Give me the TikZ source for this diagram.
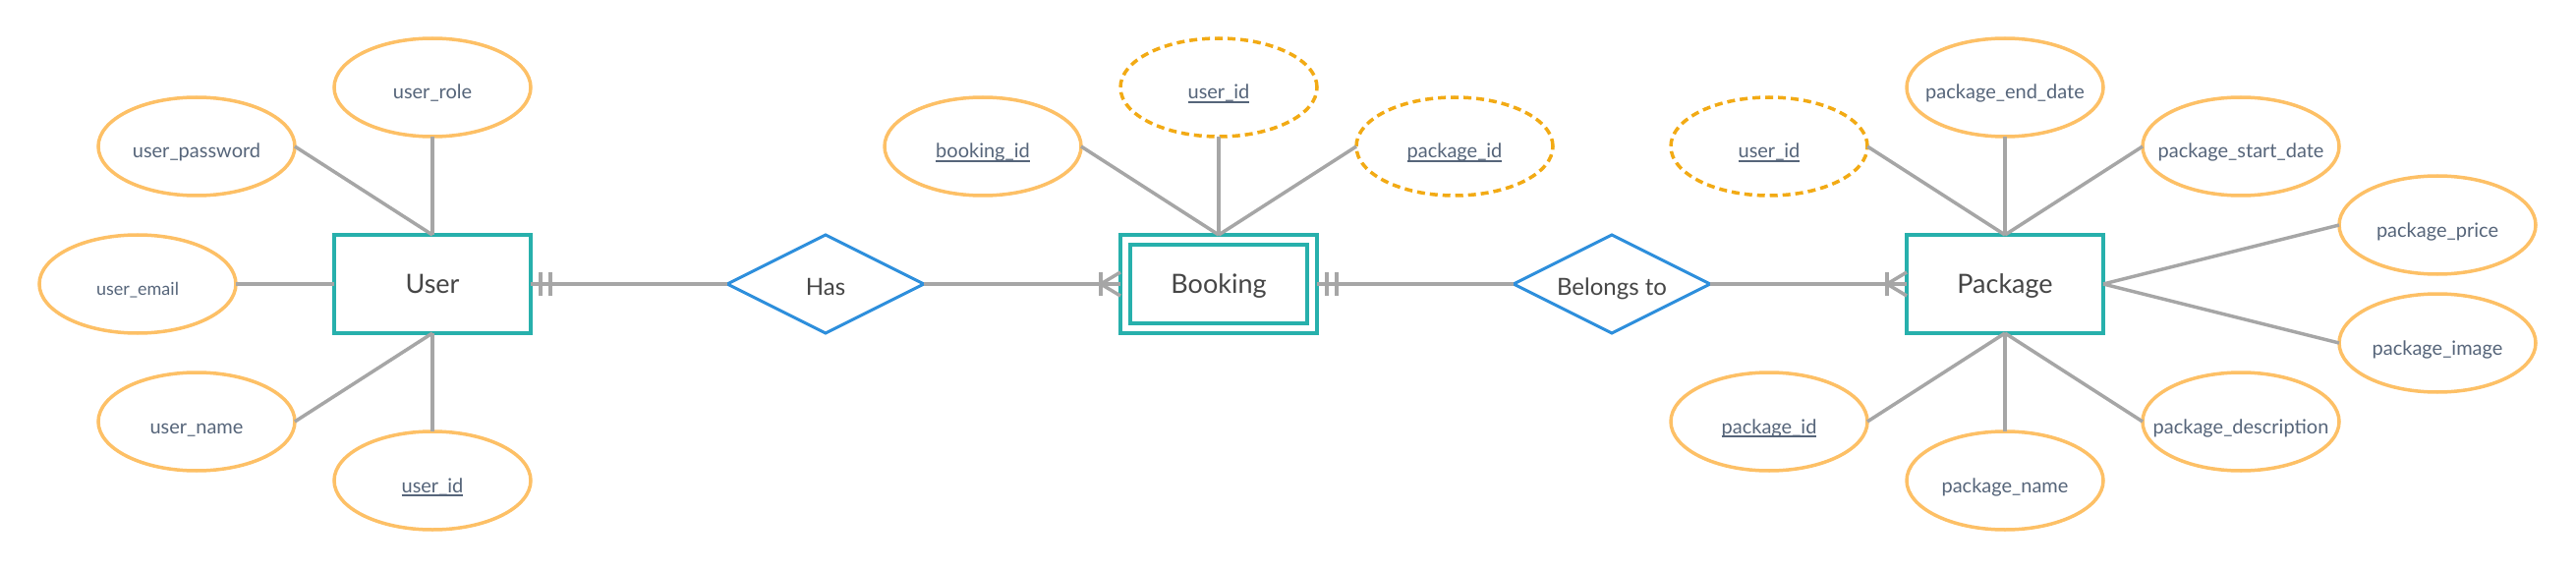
\documentclass[tikz,border=0pt]{standalone}
\usepackage{fontspec}
\setmainfont{Lato}
\usepackage{tikz}
\usepackage{xcolor}
\usetikzlibrary{shapes.geometric}
\usetikzlibrary{positioning}

\definecolor{entcol}{HTML}{27B0AC}
\definecolor{relcol}{HTML}{2E8FDC}
\definecolor{attcol}{HTML}{FDC066}
\definecolor{keycol}{HTML}{F2AA14}
\definecolor{linkcol}{HTML}{A6A6A6}
\definecolor{attext}{HTML}{56657A}
\definecolor{entext}{HTML}{464646}

\newcommand{\keyattr}[1]{\setbox0\hbox{#1}\rlap{#1}\rule[-4pt]{\wd0}{1.8pt}}

\begin{document}
\begin{tikzpicture}
	[x=1pt, y=-1pt,
	entity/.style = {draw=entcol, line width=3.5pt, fill=white, minimum width=200pt, minimum height=100pt, inner sep=0pt, outer sep=0pt, text=entext, text depth=0pt, font=\fontsize{27}{32}\selectfont},
	weak/.style = {entity, double=white, double distance=6.5pt, minimum width=190pt, minimum height=90pt, outer sep=5pt},
	rel/.style = {diamond, aspect=2, draw=relcol, line width=3pt, fill=white, minimum width=200pt, minimum height=100pt, inner sep=0pt, outer sep=0pt, text=entext, text height=22pt, text depth=0pt, font=\fontsize{24}{28}\selectfont},
	attr/.style = {ellipse, draw=attcol, line width=3.5pt, fill=white, minimum width=200pt, minimum height=100pt, inner xsep=-50pt, inner ysep=0pt, outer sep=0pt, text=attext, text height=24pt, text depth=0pt, font=\fontsize{20}{24}\selectfont},
	fkey/.style = {attr, draw=keycol, dash pattern=on 8pt off 5pt},
	link/.style = {draw=linkcol, line width=3.5pt}]
	\useasboundingbox (0,0) rectangle (2621,580);
	\node[entity] (user) at (440,289) {User};
	\node[rel] (has) [right=200pt of user] {Has};
	\node[weak] (booking) [right=200pt of has] {Booking};
	\node[rel] (belongs) [right=200pt of booking] {Belongs to};
	\node[entity] (package) [right=200pt of belongs] {Package};
	\node[attr] (urole) [above=100pt of user] {user\_role};
	\node[attr] (upass) at (200,149) {user\_password};
	\node[attr, font=\fontsize{18}{22}\selectfont, text height=22pt] (uemail) [left=100pt of user] {user\_email};
	\node[attr] (uname) at (200,429) {user\_name};
	\node[attr] (uid) [below=100pt of user] {\keyattr{user\_id}};
	\node[attr] (bid) at (1000,149) {\keyattr{booking\_id}};
	\node[fkey] (buser) [above=100pt of booking] {\keyattr{user\_id}};
	\node[fkey] (bpack) at (1480,149) {\keyattr{package\_id}};
	\node[fkey] (puser) at (1800,149) {\keyattr{user\_id}};
	\node[attr] (pend) [above=100pt of package] {package\_end\_date};
	\node[attr] (pstart) at (2280,149) {package\_start\_date};
	\node[attr] (pprice) at (2480,229) {package\_price};
	\node[attr] (pimage) at (2480,349) {package\_image};
	\node[attr] (pid) at (1800,429) {\keyattr{package\_id}};
	\node[attr] (pname) [below=100pt of package] {package\_name};
	\node[attr] (pdesc) at (2280,429) {package\_description};
	\draw[link] (urole) -- (user);
	\draw[link] (upass.east) -- (user.north);
	\draw[link] (uemail) -- (user);
	\draw[link] (uname.east) -- (user.south);
	\draw[link] (uid) -- (user);
	\draw[link] (bid.east) -- (booking.north);
	\draw[link] (buser) -- (booking);
	\draw[link] (bpack.west) -- (booking.north);
	\draw[link] (puser.east) -- (package.north);
	\draw[link] (pend) -- (package);
	\draw[link] (pstart.west) -- (package.north);
	\draw[link] (pprice.west) -- (package.east);
	\draw[link] (pimage.west) -- (package.east);
	\draw[link] (pid.east) -- (package.south);
	\draw[link] (pname) -- (package);
	\draw[link] (pdesc.west) -- (package.south);
	\draw[link] (user) -- (has);
	\draw[link] (has) -- (booking);
	\draw[link] (booking) -- (belongs);
	\draw[link] (belongs) -- (package);
	\foreach \d in {10,20} {
		\draw[link] ([xshift=\d pt]user.east) ++(0,-12) -- ++(0,24);
		\draw[link] ([xshift=\d pt]booking.east) ++(0,-12) -- ++(0,24);
	}
	\foreach \n in {booking, package} {
		\draw[link] ([xshift=-20pt]\n.west) ++(0,-12) -- ++(0,24);
		\draw[link] ([yshift=12pt]\n.west) -- ([xshift=-20pt]\n.west) -- ([yshift=-12pt]\n.west);
	}
\end{tikzpicture}
\end{document}
